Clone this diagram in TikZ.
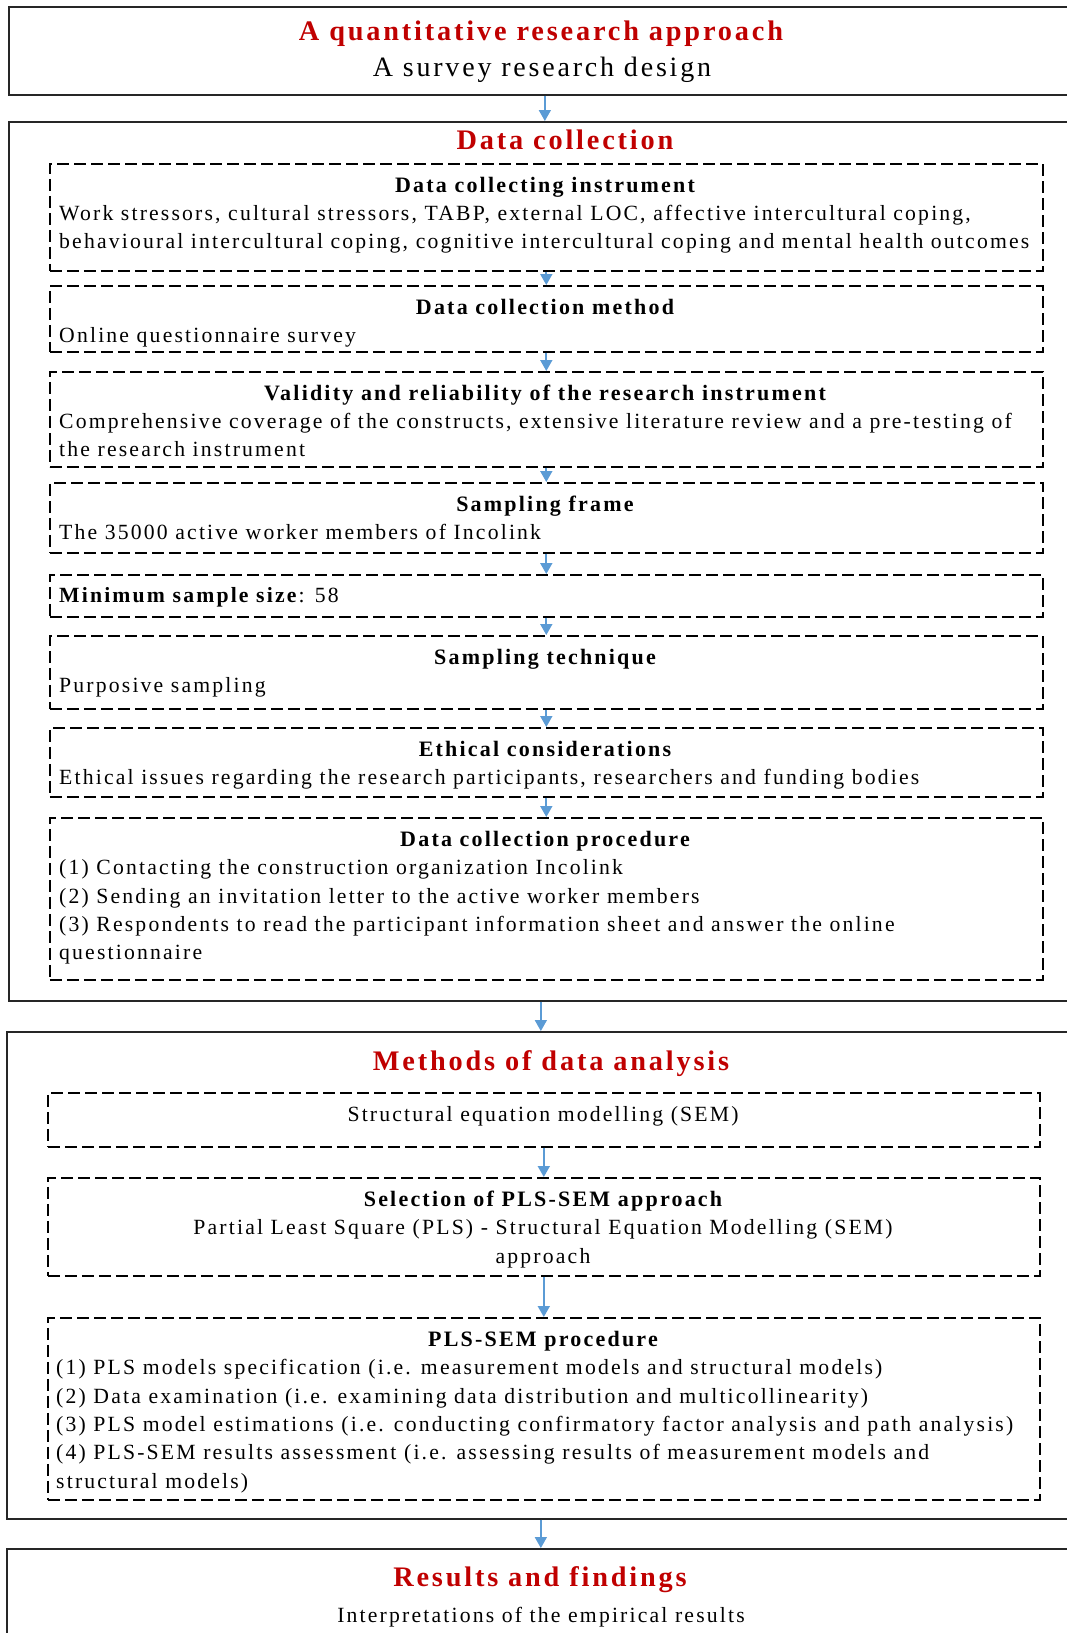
\documentclass[tikz,border=0pt]{standalone}
\usepackage{fontspec}
\setmainfont[LetterSpace=10]{Liberation Serif}
\usetikzlibrary{arrows.meta}
\definecolor{titlered}{HTML}{C00000}
\definecolor{arrblue}{HTML}{5B9BD5}
\begin{document}
\begin{tikzpicture}[x=1pt,y=-1pt,
 outer/.style={draw=black!85, line width=1.7pt, anchor=north west, inner sep=0pt},
 dbox/.style={draw=black, line width=1.6pt, dash pattern=on 12pt off 5pt, anchor=north west, inner sep=0pt, minimum width=993pt},
 arr/.style={draw=arrblue, line width=1.7pt, -{Triangle[width=12pt,length=11pt]}},
 ttl/.style={font=\fontsize{28.3}{33}\selectfont\bfseries, text=titlered, anchor=base, inner sep=0pt},
 sub/.style={font=\fontsize{28}{32}\selectfont, anchor=base, inner sep=0pt},
 head/.style={font=\fontsize{22}{28}\selectfont\bfseries, anchor=base, inner sep=0pt},
 body/.style={font=\fontsize{21.7}{28}\selectfont, anchor=base west, inner sep=0pt},
 bodyc/.style={font=\fontsize{21.7}{28}\selectfont, anchor=base, inner sep=0pt},
]
\useasboundingbox (0,0) rectangle (1067,1633);
\clip (0,0) rectangle (1067,1633);
\fill[white] (0,0) rectangle (1067,1633);

% box 1
\node[outer, minimum width=1072pt, minimum height=88pt] (o1) at (8,6) {};
\node[ttl] (t1) at (541,40) {A quantitative research approach};
\node[sub] (t2) at (542,76) {A survey research design};

% box 2
\node[outer, minimum width=1072pt, minimum height=879pt] (o2) at (8,121) {};
\node[ttl] (t3) at (565,149) {Data collection};

\node[dbox, minimum height=107pt] (a) at (49,163) {};
\node[head] (a1) at (545,192) {Data collecting instrument};
\node[body] (a2) at (59,220) {Work stressors, cultural stressors, TABP, external LOC, affective intercultural coping,};
\node[body] (a3) at (59,248.5) {behavioural intercultural coping, cognitive intercultural coping and mental health outcomes};

\node[dbox, minimum height=66pt] (b) at (49,285) {};
\node[head] (b1) at (545,314) {Data collection method};
\node[body] (b2) at (59,342) {Online questionnaire survey};

\node[dbox, minimum height=95pt] (c) at (49,371) {};
\node[head] (c1) at (545,400) {Validity and reliability of the research instrument};
\node[body] (c2) at (59,428) {Comprehensive coverage of the constructs, extensive literature review and a pre-testing of};
\node[body] (c3) at (59,456.5) {the research instrument};

\node[dbox, minimum height=70pt] (d) at (49,482) {};
\node[head] (d1) at (545,511) {Sampling frame};
\node[body] (d2) at (59,539) {The 35000 active worker members of Incolink};

\node[dbox, minimum height=42pt] (e) at (49,574) {};
\node[body] (e1) at (59,602) {\textbf{Minimum sample size}: 58};

\node[dbox, minimum height=73pt] (f) at (49,635) {};
\node[head] (f1) at (545,664) {Sampling technique};
\node[body] (f2) at (59,692) {Purposive sampling};

\node[dbox, minimum height=69pt] (g) at (49,727) {};
\node[head] (g1) at (545,756) {Ethical considerations};
\node[body] (g2) at (59,784) {Ethical issues regarding the research participants, researchers and funding bodies};

\node[dbox, minimum height=162pt] (h) at (49,817) {};
\node[head] (h1) at (545,846) {Data collection procedure};
\node[body] (h2) at (59,874.5) {(1) Contacting the construction organization Incolink};
\node[body] (h3) at (59,903) {(2) Sending an invitation letter to the active worker members};
\node[body] (h4) at (59,931) {(3) Respondents to read the participant information sheet and answer the online};
\node[body] (h5) at (59,959.5) {questionnaire};

% box 3
\node[outer, minimum width=1068pt, minimum height=487pt] (o3) at (6,1031) {};
\node[ttl] (t4) at (551,1070) {Methods of data analysis};

\node[dbox, minimum width=992pt, minimum height=54pt] (i) at (47,1092) {};
\node[bodyc] (i1) at (543,1121) {Structural equation modelling (SEM)};

\node[dbox, minimum width=992pt, minimum height=98pt] (j) at (47,1177) {};
\node[head] (j1) at (543,1206) {Selection of PLS-SEM approach};
\node[bodyc] (j2) at (543,1234.5) {Partial Least Square (PLS) - Structural Equation Modelling (SEM)};
\node[bodyc] (j3) at (543,1263) {approach};

\node[dbox, minimum width=992pt, minimum height=182pt] (k) at (47,1317) {};
\node[head] (k1) at (543,1346) {PLS-SEM procedure};
\node[body] (k2) at (56,1374.5) {(1) PLS models specification (i.e. measurement models and structural models)};
\node[body] (k3) at (56,1403) {(2) Data examination (i.e. examining data distribution and multicollinearity)};
\node[body] (k4) at (56,1431) {(3) PLS model estimations (i.e. conducting confirmatory factor analysis and path analysis)};
\node[body] (k5) at (56,1459.5) {(4) PLS-SEM results assessment (i.e. assessing results of measurement models and};
\node[body] (k6) at (56,1488) {structural models)};

% box 4
\node[outer, minimum width=1068pt, minimum height=200pt] (o4) at (6,1548) {};
\node[ttl] (t5) at (540,1586) {Results and findings};
\node[bodyc] (t6) at (541,1622.5) {Interpretations of the empirical results};

% arrows
\draw[arr] (o1.south) -- (o2.north);
\draw[arr] (a.south) -- (b.north);
\draw[arr] (b.south) -- (c.north);
\draw[arr] (c.south) -- (d.north);
\draw[arr] (d.south) -- (e.north);
\draw[arr] (e.south) -- (f.north);
\draw[arr] (f.south) -- (g.north);
\draw[arr] (g.south) -- (h.north);
\draw[arr] (o2.south -| o3.north) -- (o3.north);
\draw[arr] (i.south) -- (j.north);
\draw[arr] (j.south) -- (k.north);
\draw[arr] (o3.south) -- (o4.north);
\end{tikzpicture}
\end{document}
